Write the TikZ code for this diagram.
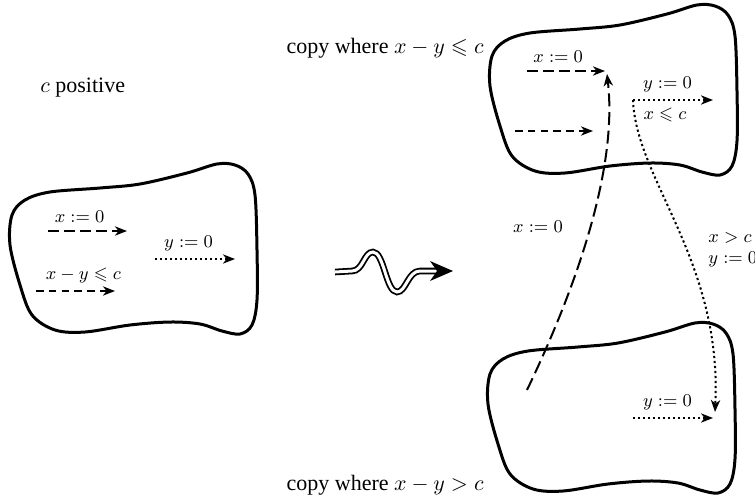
\documentclass[tikz,border=0pt]{standalone}
\usepackage{amssymb}
\usepackage{fontspec}
\setmainfont{Liberation Serif}
\usetikzlibrary{arrows.meta}
\tikzset{
  blob/.style={line width=1.5pt, line join=round},
  arr/.style={line width=1pt, -{Stealth[length=6pt,width=4.6pt,inset=1.8pt]}},
  longdash/.style={dash pattern=on 5.5pt off 2.5pt},
  shortdash/.style={dash pattern=on 3.8pt off 2.6pt},
  curvedash/.style={dash pattern=on 6.5pt off 2.8pt},
  dots/.style={dash pattern=on 1.1pt off 1.4pt},
  lbl/.style={font=\fontsize{9}{10.5}\selectfont, inner sep=3.6pt},
  txt/.style={font=\fontsize{11}{13}\selectfont, inner sep=0pt},
  blobpic/.pic={
    \draw[blob] plot[smooth cycle, tension=0.55] coordinates {
      (10,245) (12,215) (25,200) (50,192) (100,188) (140,184) (187,173)
      (217,164) (235,165) (248,174) (255,195) (257,250) (257,300) (252,325)
      (240,334) (222,331) (200,324) (170,322) (130,325) (85,332) (55,330)
      (32,315) (20,285)};
  }
}
\begin{document}
\begin{tikzpicture}[x=0.5pt, y=-0.5pt]
\useasboundingbox (0,0) rectangle (755,499);

% blobs
\pic (left) at (0,0) {blobpic};
\pic (top) at (480,-159) {blobpic};
\pic (bot) at (478,159) {blobpic};

% texts
\node[txt, anchor=west] (cpos) at (40,88) {$c$ positive};
\node[txt, anchor=east] (copy1) at (484,48) {copy where $x-y\leqslant c$};
\node[txt, anchor=east] (copy2) at (484,485) {copy where $x-y>c$};

% left blob arrows
\coordinate (a1) at (48,231); \coordinate (a2) at (127,231);
\draw[arr,longdash] (a1) -- node[lbl,above,pos=0.4] (la) {$x:=0$} (a2);
\coordinate (b1) at (155,259); \coordinate (b2) at (235,259);
\draw[arr,dots] (b1) -- node[lbl,above,pos=0.42] (lb) {$y:=0$} (b2);
\coordinate (c1) at (36,291); \coordinate (c2) at (115,291);
\draw[arr,shortdash] (c1) -- node[lbl,above,pos=0.6] (lc) {$x-y\leqslant c$} (c2);

% top blob arrows
\coordinate (d1) at (527,71); \coordinate (d2) at (605,71);
\draw[arr,longdash] (d1) -- node[lbl,above,pos=0.4] (ld) {$x:=0$} (d2);
\coordinate (e1) at (515,131); \coordinate (e2) at (593,131);
\draw[arr,shortdash] (e1) -- (e2);
\coordinate (f1) at (633,100); \coordinate (f2) at (713,100);
\draw[arr,dots] (f1) -- node[lbl,above,pos=0.43] (lf) {$y:=0$}
  node[lbl,below,pos=0.4] (lf2) {$x\leqslant c$} (f2);

% bottom blob arrow
\coordinate (g1) at (633,418); \coordinate (g2) at (713,418);
\draw[arr,dots] (g1) -- node[lbl,above,pos=0.43] (lg) {$y:=0$} (g2);

% transitions between copies
\coordinate (h0) at (527,390); \coordinate (h1) at (607,74);
\draw[arr,curvedash] (h0) .. controls (575,290) and (618,170) .. (h1);
\node[lbl] (lh) at (538,227) {$x:=0$};

\coordinate (k1) at (715,412);
\draw[arr,dots] (f1) .. controls (636,180) and (722,260) .. (k1);
\node[lbl, anchor=west, align=left, inner sep=2pt] (lk) at (704,250) {$x>c$\\$y:=0$};

% squiggly arrow
\coordinate (s0) at (335,272); \coordinate (s1) at (438,271);
\coordinate (stip) at (453,271);
\draw[double=white, double distance=1.5pt, line width=0.9pt]
  (s0) -- (352,271) .. controls (363,271) and (364,252) .. (373,252)
  .. controls (384,252) and (386,292) .. (397,292)
  .. controls (406,292) and (408,271) .. (420,271) -- (s1);
\fill (stip) -- (430,261) -- (437,271) -- (430,281) -- cycle;
\end{tikzpicture}
\end{document}
